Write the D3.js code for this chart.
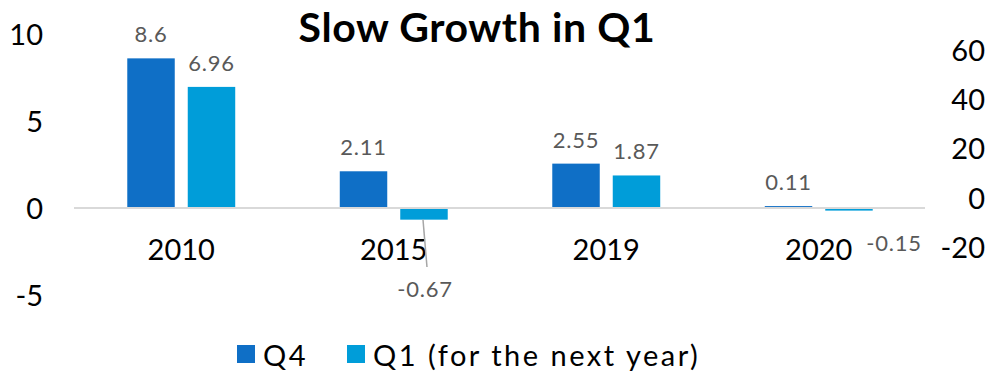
<!DOCTYPE html>
<html>
<head>
<meta charset="utf-8">
<script src="https://cdn.jsdelivr.net/npm/d3@7/dist/d3.min.js"></script>
<style>
  html, body { margin: 0; padding: 0; background: #fff; }
  svg { display: block; font-family: Lato, "Open Sans", sans-serif; }
</style>
</head>
<body>
<svg id="chart" width="990" height="371"></svg>
<script>
// Growth figures: Q4 of each year vs. Q1 of the following year
const categories = ["2010", "2015", "2019", "2020"];
const seriesNames = ["Q4", "Q1 (for the next year)"];
const q4Values = [8.6, 2.11, 2.55, 0.11];
const q1Values = [6.96, -0.67, 1.87, -0.15];
const leftTicks = [-5, 0, 5, 10];
const rightTicks = [-20, 0, 20, 40, 60];
const colors = ["#0F6FC6", "#009DD9"];

const svg = d3.select("#chart");

const x0 = d3.scaleBand().domain(categories).range([75, 925])
  .paddingInner(0.492).paddingOuter(0.246);
const x1 = d3.scaleBand().domain(seriesNames).range([0, x0.bandwidth()])
  .paddingInner(0.215).paddingOuter(0);
const y = d3.scaleLinear().domain([-5, 10]).range([295, 34]);
const yRight = d3.scaleLinear().domain([-20, 60]).range([247, 50]);

// Title
svg.append("text")
  .attr("x", 477).attr("y", 42)
  .attr("text-anchor", "middle")
  .attr("font-size", 41).attr("font-weight", 700)
  .attr("letter-spacing", 0.6)
  .attr("fill", "#000")
  .text("Slow Growth in Q1");

// Left value axis (labels only)
const leftAxis = svg.append("g").attr("transform", "translate(43,0)")
  .call(d3.axisLeft(y).tickValues(leftTicks).tickSize(0).tickPadding(0).tickFormat(d => String(d)));
leftAxis.select(".domain").remove();
leftAxis.selectAll("text").attr("font-size", 29).attr("fill", "#000")
  .attr("font-family", "Lato, sans-serif").attr("dy", "0.36em");

// Right axis (labels only)
const rightAxis = svg.append("g").attr("transform", "translate(985,0)")
  .call(d3.axisLeft(yRight).tickValues(rightTicks).tickSize(0).tickPadding(0).tickFormat(d => String(d)));
rightAxis.select(".domain").remove();
rightAxis.selectAll("text").attr("font-size", 29).attr("fill", "#000")
  .attr("font-family", "Lato, sans-serif").attr("dy", "0.36em");

// Bars
const rows = categories.map((c, i) => ({ cat: c, vals: [q4Values[i], q1Values[i]] }));
const groups = svg.append("g").selectAll("g").data(rows).join("g")
  .attr("transform", d => `translate(${x0(d.cat)},0)`);

groups.selectAll("rect")
  .data(d => d.vals.map((v, j) => ({ v, s: seriesNames[j], j })))
  .join("rect")
  .attr("x", d => x1(d.s))
  .attr("width", x1.bandwidth())
  .attr("y", d => y(Math.max(0, d.v)))
  .attr("height", d => Math.abs(y(d.v) - y(0)))
  .attr("fill", d => colors[d.j]);

// Zero baseline
svg.append("line")
  .attr("x1", 74).attr("x2", 925)
  .attr("y1", y(0)).attr("y2", y(0))
  .attr("stroke", "#D9D9D9").attr("stroke-width", 2);

// Category labels
svg.append("g").selectAll("text").data(categories).join("text")
  .attr("x", d => x0(d) + x0.bandwidth() / 2)
  .attr("y", 260)
  .attr("text-anchor", "middle")
  .attr("font-size", 29).attr("fill", "#000")
  .text(d => d);

// Data labels
const labels = [];
rows.forEach(r => r.vals.forEach((v, j) => {
  const cx = x0(r.cat) + x1(seriesNames[j]) + x1.bandwidth() / 2;
  labels.push({ v, cx, j, cat: r.cat });
}));

const labelG = svg.append("g");
labels.forEach(d => {
  let lx = d.cx, ly = y(Math.max(0, d.v)) - 16;
  if (d.v < 0 && d.cat === "2015") {
    // label pulled below the category axis with a leader line
    lx = d.cx + 1; ly = 297;
    labelG.append("line")
      .attr("x1", d.cx - 1).attr("y1", y(d.v))
      .attr("x2", d.cx + 3).attr("y2", 267)
      .attr("stroke", "#A6A6A6").attr("stroke-width", 1.5);
  } else if (d.v < 0) {
    lx = d.cx + 45; ly = 251;
  }
  labelG.append("text")
    .attr("x", lx).attr("y", ly)
    .attr("text-anchor", "middle")
    .attr("font-size", 22).attr("letter-spacing", 0.8).attr("fill", "#595959")
    .text(String(d.v));
});

// Legend
const legend = svg.append("g");
const legendItems = [
  { name: seriesNames[0], x: 237, color: colors[0] },
  { name: seriesNames[1], x: 347, color: colors[1] }
];
legendItems.forEach(it => {
  legend.append("rect").attr("x", it.x).attr("y", 345)
    .attr("width", 18).attr("height", 18).attr("fill", it.color);
  legend.append("text").attr("x", it.x + 26).attr("y", 366)
    .attr("font-size", 29).attr("letter-spacing", 2.5).attr("fill", "#000")
    .text(it.name);
});
</script>
</body>
</html>
